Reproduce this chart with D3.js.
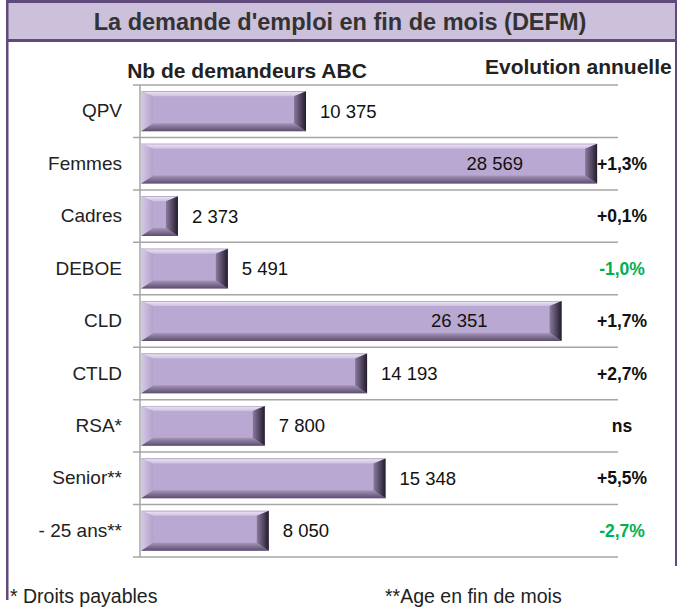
<!DOCTYPE html>
<html>
<head>
<meta charset="utf-8">
<script src="https://cdn.jsdelivr.net/npm/d3@7"></script>
<style>
  body { margin: 0; background: #fff; }
  svg { display: block; font-family: "Liberation Sans", Arial, sans-serif; }
</style>
</head>
<body>
<div id="chart"></div>
<script>
// Data
const categories = ['QPV', 'Femmes', 'Cadres', 'DEBOE', 'CLD', 'CTLD', 'RSA*', 'Senior**', '- 25 ans**'];
const demandeurs = [10375, 28569, 2373, 5491, 26351, 14193, 7800, 15348, 8050];
const evolutions = [null, 1.3, 0.1, -1.0, 1.7, 2.7, 'ns', 5.5, -2.7];
const xDomain = [0, 30000];

const title = "La demande d'emploi en fin de mois (DEFM)";
const leftHeader = 'Nb de demandeurs ABC';
const rightHeader = 'Evolution annuelle';
const notes = ['* Droits payables', '**Age en fin de mois'];

const rows = categories.map((c, i) => ({ cat: c, value: demandeurs[i], evol: evolutions[i] }));

const W = 677, H = 608;
const purple = '#604a7b';

const fr = d3.formatLocale({ decimal: ',', thousands: ' ', grouping: [3], currency: ['', ' €'], minus: '-' });
const fmtNb = fr.format(',d');
const fmtEvol = v => fr.format('+.1f')(v) + '%';

const svg = d3.select('#chart').append('svg')
    .attr('width', W)
    .attr('height', H);

// Frame & title band
svg.append('rect')
    .attr('x', 7).attr('y', 2)
    .attr('width', 668).attr('height', 38)
    .attr('fill', '#ccc0da');
svg.append('rect').attr('x', 6).attr('y', 0).attr('width', 671).attr('height', 3).attr('fill', purple);
svg.append('rect').attr('x', 6).attr('y', 39).attr('width', 671).attr('height', 3).attr('fill', purple);
svg.append('rect').attr('x', 6).attr('y', 0).attr('width', 2.5).attr('height', 600).attr('fill', purple);
svg.append('rect').attr('x', 675).attr('y', 0).attr('width', 2).attr('height', 566).attr('fill', purple);

svg.append('text')
    .attr('x', 340).attr('y', 30)
    .attr('text-anchor', 'middle')
    .style('font-size', '23.5px')
    .style('font-weight', 'bold')
    .style('fill', '#333')
    .text(title);

svg.append('text')
    .attr('x', 247).attr('y', 78)
    .attr('text-anchor', 'middle')
    .style('font-size', '21px')
    .style('font-weight', 'bold')
    .style('fill', '#222')
    .text(leftHeader);

svg.append('text')
    .attr('x', 485).attr('y', 74)
    .style('font-size', '21px')
    .style('font-weight', 'bold')
    .style('fill', '#222')
    .text(rightHeader);

// Scales
const x = d3.scaleLinear().domain(xDomain).range([140, 620]);
const y = d3.scaleBand().domain(categories).range([85, 557]).paddingInner(0.24).paddingOuter(0.12);
const step = y.step();

// Gradients for the bevelled bars
const defs = svg.append('defs');
function grad(id, x2, y2, stops) {
    const g = defs.append('linearGradient').attr('id', id)
        .attr('x1', 0).attr('y1', 0).attr('x2', x2).attr('y2', y2);
    stops.forEach(s => g.append('stop').attr('offset', s[0]).attr('stop-color', s[1]));
}
grad('bv-top', 0, 1, [[0, '#a898be'], [0.25, '#e6def0'], [1, '#cdbfe0']]);
grad('bv-bot', 0, 1, [[0, '#a495b9'], [1, '#5c4d6e']]);
grad('bv-left', 1, 0, [[0, '#d6cae6'], [1, '#b3a2cc']]);
grad('bv-right', 1, 0, [[0, '#8a7a9e'], [1, '#231b2c']]);

// Grid / separators
const grid = svg.append('g');
d3.range(categories.length + 1).forEach(i => {
    const yy = 85 + i * step;
    grid.append('line')
        .attr('x1', 133).attr('x2', 618)
        .attr('y1', yy).attr('y2', yy)
        .attr('stroke', '#a6a6a6').attr('stroke-width', 1.5);
});
grid.append('line')
    .attr('x1', 140).attr('x2', 140)
    .attr('y1', 85).attr('y2', 557)
    .attr('stroke', '#a6a6a6').attr('stroke-width', 1.5);

// Bars
const bw = 12, bt = 5, bb = 8;
const bars = svg.append('g').selectAll('g.bar')
    .data(rows)
    .enter().append('g').attr('class', 'bar');

bars.each(function(d) {
    const g = d3.select(this);
    const x0 = x(0) + 1, x1 = x(d.value), y0 = y(d.cat), y1 = y0 + y.bandwidth();
    const e = Math.min(bw, (x1 - x0) / 2);
    const pts = a => a.map(p => p.join(',')).join(' ');
    g.append('rect')
        .attr('x', x0).attr('y', y0)
        .attr('width', x1 - x0).attr('height', y1 - y0)
        .attr('fill', '#b9a8d1');
    g.append('polygon').attr('fill', 'url(#bv-top)')
        .attr('points', pts([[x0, y0], [x1, y0], [x1 - e, y0 + bt], [x0 + e, y0 + bt]]));
    g.append('polygon').attr('fill', 'url(#bv-bot)')
        .attr('points', pts([[x0, y1], [x1, y1], [x1 - e, y1 - bb], [x0 + e, y1 - bb]]));
    g.append('polygon').attr('fill', 'url(#bv-left)')
        .attr('points', pts([[x0, y0], [x0 + e, y0 + bt], [x0 + e, y1 - bb], [x0, y1]]));
    g.append('polygon').attr('fill', 'url(#bv-right)')
        .attr('points', pts([[x1, y0], [x1 - e, y0 + bt], [x1 - e, y1 - bb], [x1, y1]]));
});

// Value labels
svg.append('g').selectAll('text')
    .data(rows)
    .enter().append('text')
    .attr('x', d => d.value > 20000 ? x(d.value) - 74 : x(d.value) + 14)
    .attr('y', d => y(d.cat) + y.bandwidth() / 2)
    .attr('dy', '0.35em')
    .attr('text-anchor', d => d.value > 20000 ? 'end' : 'start')
    .style('font-size', '18.5px')
    .style('fill', '#111')
    .text(d => fmtNb(d.value));

// Category axis
const axis = svg.append('g')
    .attr('transform', 'translate(140,0)')
    .call(d3.axisLeft(y).tickSize(0).tickPadding(18));
axis.select('.domain').remove();
axis.selectAll('text')
    .style('font-size', '19px')
    .style('font-family', '"Liberation Sans", Arial, sans-serif')
    .style('fill', '#222');

// Annual change column
svg.append('g').selectAll('text')
    .data(rows.filter(d => d.evol !== null))
    .enter().append('text')
    .attr('x', 622)
    .attr('y', d => y(d.cat) + y.bandwidth() / 2)
    .attr('dy', '0.35em')
    .attr('text-anchor', 'middle')
    .style('font-size', '17.5px')
    .style('font-weight', 'bold')
    .style('fill', d => typeof d.evol === 'number' && d.evol < 0 ? '#00b050' : '#111')
    .text(d => typeof d.evol === 'number' ? fmtEvol(d.evol) : d.evol);

// Footnotes
svg.append('text')
    .attr('x', 10).attr('y', 603)
    .style('font-size', '19.5px').style('fill', '#222')
    .text(notes[0]);
svg.append('text')
    .attr('x', 385).attr('y', 603)
    .style('font-size', '19.5px').style('fill', '#222')
    .text(notes[1]);
</script>
</body>
</html>
